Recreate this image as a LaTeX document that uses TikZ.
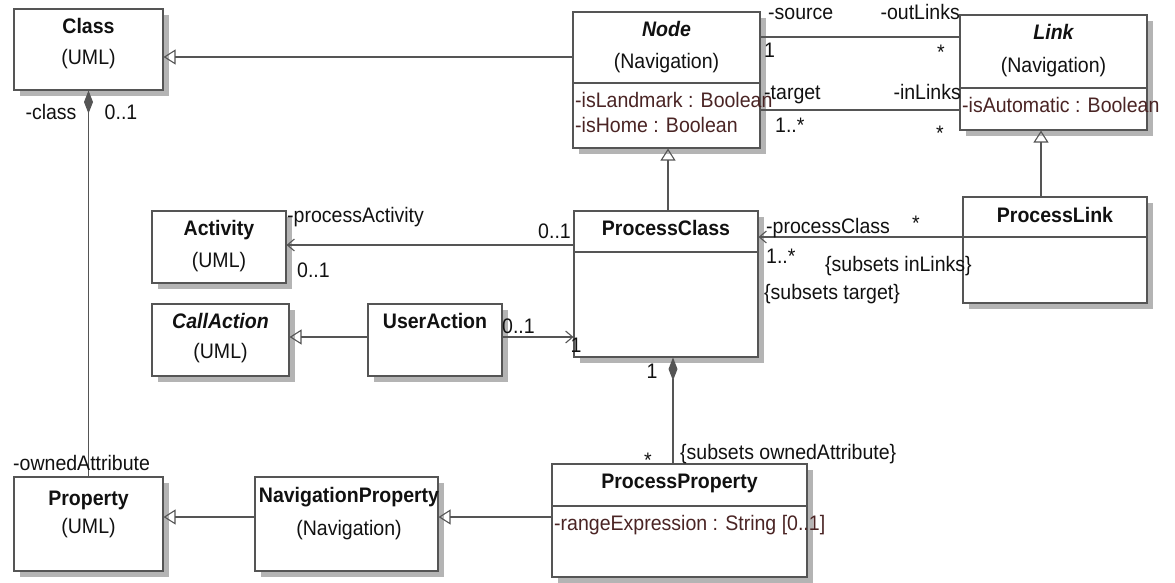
\documentclass[tikz,border=0pt]{standalone}
\usepackage{fontspec}
\setmainfont{Liberation Sans}[FakeStretch=0.93]
\usetikzlibrary{arrows.meta,fit}
\definecolor{linec}{HTML}{555555}
\definecolor{shadowc}{HTML}{B4B4B4}
\definecolor{attrc}{HTML}{4A2424}
\definecolor{textc}{HTML}{111111}
\newcommand{\umlbox}[5]{%
  \fill[shadowc] (#2+6,#3+6) rectangle (#4+6,#5+6);
  \node[box, fit={(#2,#3) (#4,#5)}] (#1) {};}
\begin{document}
\begin{tikzpicture}[x=1pt,y=-1pt,
  every node/.style={font=\fontsize{21}{25}\selectfont, text=textc, inner sep=0pt},
  box/.style={draw=linec, line width=1.1pt, fill=white, inner sep=0pt},
  sepline/.style={draw=linec, line width=1.1pt},
  conn/.style={draw=linec, line width=1.1pt},
  gen/.style={conn, -{Triangle[open,length=12pt,width=15pt]}},
  nav/.style={conn, -{Straight Barb[length=7pt,width=12pt]}},
  comp/.style={conn, {Diamond[length=23pt,width=9pt,fill=linec]}-},
  title/.style={anchor=base, font=\fontsize{21}{25}\selectfont\bfseries},
  ititle/.style={anchor=base, font=\fontsize{21}{25}\selectfont\bfseries\itshape},
  sub/.style={anchor=base},
  attr/.style={anchor=base west, text=attrc},
  lw/.style={anchor=base west},
  le/.style={anchor=base east},
  lc/.style={anchor=base}
]
\useasboundingbox (0,0) rectangle (1175,583);

% boxes
\umlbox{cls}{14}{9}{163}{90}
\umlbox{navnode}{573}{12}{760}{148}
\umlbox{link}{960}{15}{1147}{130}
\umlbox{plink}{963}{197}{1147}{303}
\umlbox{pclass}{574}{211}{758}{357}
\umlbox{activity}{152}{211}{286}{283}
\umlbox{callaction}{152}{304}{289}{376}
\umlbox{useraction}{368}{304}{502}{376}
\umlbox{property}{14}{477}{163}{571}
\umlbox{navprop}{255}{477}{438}{571}
\umlbox{pprop}{552}{464}{807}{577}

% compartment dividers
\draw[sepline] (navnode.west |- 0,83) -- (navnode.east |- 0,83);
\draw[sepline] (link.west |- 0,88) -- (link.east |- 0,88);
\draw[sepline] (plink.west |- 0,237) -- (plink.east |- 0,237);
\draw[sepline] (pclass.west |- 0,252) -- (pclass.east |- 0,252);
\draw[sepline] (pprop.west |- 0,506) -- (pprop.east |- 0,506);

% box texts
\node[title] (clsT) at (88.5,34) {Class};
\node[sub] (clsS) at (88.5,65) {(UML)};
\node[ititle] (navnodeT) at (666.5,37) {Node};
\node[sub] (navnodeS) at (666.5,69) {(Navigation)};
\node[attr] (navnodeA1) at (575,108) {-isLandmark : Boolean};
\node[attr] (navnodeA2) at (575,133) {-isHome : Boolean};
\node[ititle] (linkT) at (1053.5,40) {Link};
\node[sub] (linkS) at (1053.5,73) {(Navigation)};
\node[attr] (linkA1) at (962,113) {-isAutomatic : Boolean};
\node[title] (plinkT) at (1055,222) {ProcessLink};
\node[title] (pclassT) at (666,235) {ProcessClass};
\node[title] (activityT) at (219,235) {Activity};
\node[sub] (activityS) at (219,267) {(UML)};
\node[ititle] (callactionT) at (220.5,328) {CallAction};
\node[sub] (callactionS) at (220.5,358) {(UML)};
\node[title] (useractionT) at (435,328) {UserAction};
\node[title] (propertyT) at (88.5,505) {Property};
\node[sub] (propertyS) at (88.5,533) {(UML)};
\node[title] (navpropT) at (349,502) {NavigationProperty};
\node[sub] (navpropS) at (349,535) {(Navigation)};
\node[title] (ppropT) at (679.5,488) {ProcessProperty};
\node[attr] (ppropA1) at (554,530) {-rangeExpression : String [0..1]};

% connectors
\draw[gen] (navnode.west |- 0,57) -- (cls.east |- 0,57);
\draw[conn] (navnode.east |- 0,37) -- (link.west |- 0,37);
\draw[conn] (navnode.east |- 0,110) -- (link.west |- 0,110);
\draw[gen] (pclass.north -| 668,0) -- (navnode.south -| 668,0);
\draw[gen] (plink.north -| 1041,0) -- (link.south -| 1041,0);
\draw[nav] (plink.west |- 0,237) -- (pclass.east |- 0,237);
\draw[nav] (pclass.west |- 0,245) -- (activity.east |- 0,245);
\draw[gen] (useraction.west |- 0,337) -- (callaction.east |- 0,337);
\draw[nav] (useraction.east |- 0,337) -- (pclass.west |- 0,337);
\draw[comp] (cls.south) -- (property.north);
\draw[comp] (pclass.south -| 673,0) -- (pprop.north -| 673,0);
\draw[gen] (pprop.west |- 0,517) -- (navprop.east |- 0,517);
\draw[gen] (navprop.west |- 0,517) -- (property.east |- 0,517);

% connector labels
\node[lw] (l1) at (768,20) {-source};
\node[le] (l2) at (960,20) {-outLinks};
\node[lw] (l3) at (764,58) {1};
\node[lc] (l4) at (941,60) {*};
\node[lw] (l5) at (764,100) {-target};
\node[le] (l6) at (961,100) {-inLinks};
\node[lw] (l7) at (775,133) {1..*};
\node[lc] (l8) at (940,140) {*};
\node[lw] (l9) at (766,233) {-processClass};
\node[lc] (l10) at (916,230) {*};
\node[lw] (l11) at (766,263) {1..*};
\node[lw] (l12) at (825,271) {\{subsets inLinks\}};
\node[lw] (l13) at (764,299) {\{subsets target\}};
\node[lw] (l14) at (287,222) {-processActivity};
\node[le] (l15) at (571,238) {0..1};
\node[lw] (l16) at (297,277) {0..1};
\node[lw] (l17) at (502,333) {0..1};
\node[lc] (l18) at (576,352) {1};
\node[lc] (l19) at (652,378) {1};
\node[lc] (l20) at (648,467) {*};
\node[lw] (l21) at (680,459) {\{subsets ownedAttribute\}};
\node[lc] (l22) at (51,120) {-class};
\node[lc] (l23) at (121,120) {0..1};
\node[lw] (l24) at (13,470) {-ownedAttribute};
\end{tikzpicture}
\end{document}
